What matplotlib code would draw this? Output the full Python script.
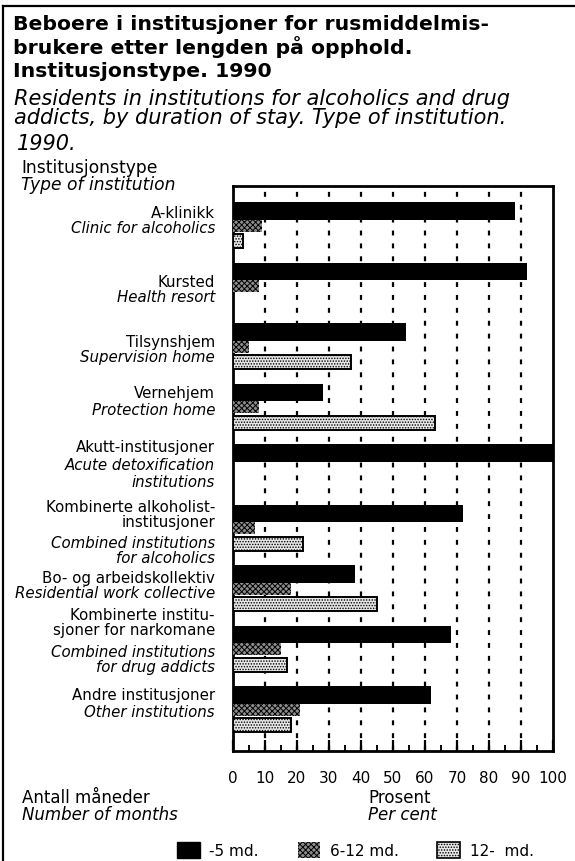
import matplotlib
matplotlib.use("Agg")
import matplotlib.pyplot as plt
from matplotlib.patches import Patch
from matplotlib.lines import Line2D

# ---------------- data ----------------
categories_no = [
    "A-klinikk",
    "Kursted",
    "Tilsynshjem",
    "Vernehjem",
    "Akutt-institusjoner",
    "Kombinerte alkoholist-\ninstitusjoner",
    "Bo- og arbeidskollektiv",
    "Kombinerte institu-\nsjoner for narkomane",
    "Andre institusjoner",
]
categories_en = [
    "Clinic for alcoholics",
    "Health resort",
    "Supervision home",
    "Protection home",
    "Acute detoxification\ninstitutions",
    "Combined institutions\nfor alcoholics",
    "Residential work collective",
    "Combined institutions\nfor drug addicts",
    "Other institutions",
]
series_names = ["-5 md.", "6-12 md.", "12-  md."]
under_5 = [88, 92, 54, 28, 100, 72, 38, 68, 62]
m6_12 = [9, 8, 5, 8, 0, 7, 18, 15, 21]
m12_plus = [3, 0, 37, 63, 0, 22, 45, 17, 18]
x_ticks = [0, 10, 20, 30, 40, 50, 60, 70, 80, 90, 100]

W, H = 575, 862
plt.rcParams["font.family"] = ["DejaVu Sans"]
plt.rcParams["hatch.linewidth"] = 0.7
fig = plt.figure(figsize=(W / 100, H / 100), dpi=100)


def fy(py):
    return 1 - py / H


def fx(px):
    return px / W


# outer frame (top and left lines)
fig.add_artist(Line2D([fx(3), fx(575)], [fy(7), fy(7)], color="black", lw=1.6))
fig.add_artist(Line2D([fx(3), fx(3)], [fy(7), fy(862)], color="black", lw=1.6))

# titles
title_lines = [
    ("Beboere i institusjoner for rusmiddelmis-", 30),
    ("brukere etter lengden på opphold.", 54),
    ("Institusjonstype. 1990", 77),
]
for s, by in title_lines:
    fig.text(fx(13), fy(by), s, fontsize=14.7, fontweight="bold",
             va="baseline", ha="left")
sub_lines = [
    ("Residents in institutions for alcoholics and drug", 105, 14),
    ("addicts, by duration of stay. Type of institution.", 124, 14),
    ("1990.", 150, 17),
]
for s, by, x in sub_lines:
    fig.text(fx(x), fy(by), s, fontsize=15, style="italic",
             va="baseline", ha="left")

fig.text(fx(21), fy(173), "Institusjonstype", fontsize=12.3, va="baseline")
fig.text(fx(21), fy(190), "Type of institution", fontsize=12.3,
         style="italic", va="baseline")

# ---------------- axes ----------------
ax_l, ax_r, ax_t, ax_b = 233, 553, 187, 752
ax = fig.add_axes([fx(ax_l), fy(ax_b), (ax_r - ax_l) / W, (ax_b - ax_t) / H])

ypos = list(range(len(under_5)))
b1 = ax.barh([y - 0.265 for y in ypos], under_5, height=0.29,
             color="black", edgecolor="black", linewidth=0, zorder=3,
             label=series_names[0])
b2 = ax.barh([y - 0.02 for y in ypos], m6_12, height=0.20,
             color="#8c8c8c", edgecolor="black", hatch="xxxxxx",
             linewidth=0, zorder=3, label=series_names[1])
b3 = ax.barh([y + 0.235 for y in ypos], m12_plus, height=0.23,
             color="#e6e6e6", edgecolor="black", hatch="......",
             linewidth=1.4, zorder=3, label=series_names[2])
for rect, v in zip(b3, m12_plus):
    if v == 0:
        rect.set_visible(False)
for rect, v in zip(b2, m6_12):
    if v == 0:
        rect.set_visible(False)

ax.set_xlim(0, 100)
ax.set_ylim(len(ypos) - 1 + 0.66, -0.68)
ax.set_yticks([])
ax.set_xticks(x_ticks)
ax.set_xticks([t + 5 for t in x_ticks[:-1]], minor=True)
ax.tick_params(axis="x", which="major", direction="in", length=8, width=1.6,
               pad=14, labelsize=11)
ax.tick_params(axis="x", which="minor", direction="in", length=4, width=1.4)
for v in x_ticks[1:-1]:
    ax.axvline(v, color="black", lw=1.6, ls=(0, (2.2, 3.6)), zorder=1)
for sp in ax.spines.values():
    sp.set_linewidth(2.0)

# category labels (baseline positions in pixels)
label_lines = [
    [(0, 218), (1, 233)],
    [(0, 287), (1, 302)],
    [(0, 347), (1, 362)],
    [(0, 398), (1, 415)],
    [(0, 452), (1, 470), (1, 487)],
    [(0, 512), (0, 527), (1, 548), (1, 563)],
    [(0, 583), (1, 598)],
    [(0, 620), (0, 635), (1, 657), (1, 672)],
    [(0, 700), (1, 717)],
]
for i in range(len(categories_no)):
    no = categories_no[i].split("\n")
    en = categories_en[i].split("\n")
    texts = [(t, 0) for t in no] + [(t, 1) for t in en]
    for (t, it), (_, by) in zip(texts, label_lines[i]):
        fig.text(fx(215), fy(by), t, fontsize=10.8, ha="right", va="baseline",
                 style="italic" if it else "normal")

# axis titles
fig.text(fx(22), fy(803), "Antall måneder", fontsize=12, va="baseline")
fig.text(fx(22), fy(820), "Number of months", fontsize=12,
         style="italic", va="baseline")
fig.text(fx(368), fy(803), "Prosent", fontsize=12, va="baseline")
fig.text(fx(368), fy(820), "Per cent", fontsize=12, style="italic",
         va="baseline")

# legend
handles = [
    Patch(facecolor="black", edgecolor="black", label=series_names[0]),
    Patch(facecolor="#8c8c8c", edgecolor="black", hatch="xxxxxx", lw=0,
          label=series_names[1]),
    Patch(facecolor="#e6e6e6", edgecolor="black", hatch="......", lw=1.2,
          label=series_names[2]),
]
fig.legend(handles=handles, loc="center left",
           bbox_to_anchor=(fx(177), fy(851)), ncol=3, frameon=False,
           fontsize=11, handlelength=1.5, handleheight=1.2,
           columnspacing=2.55, handletextpad=0.6, borderpad=0, borderaxespad=0)

fig.savefig("out.png", dpi=100)
